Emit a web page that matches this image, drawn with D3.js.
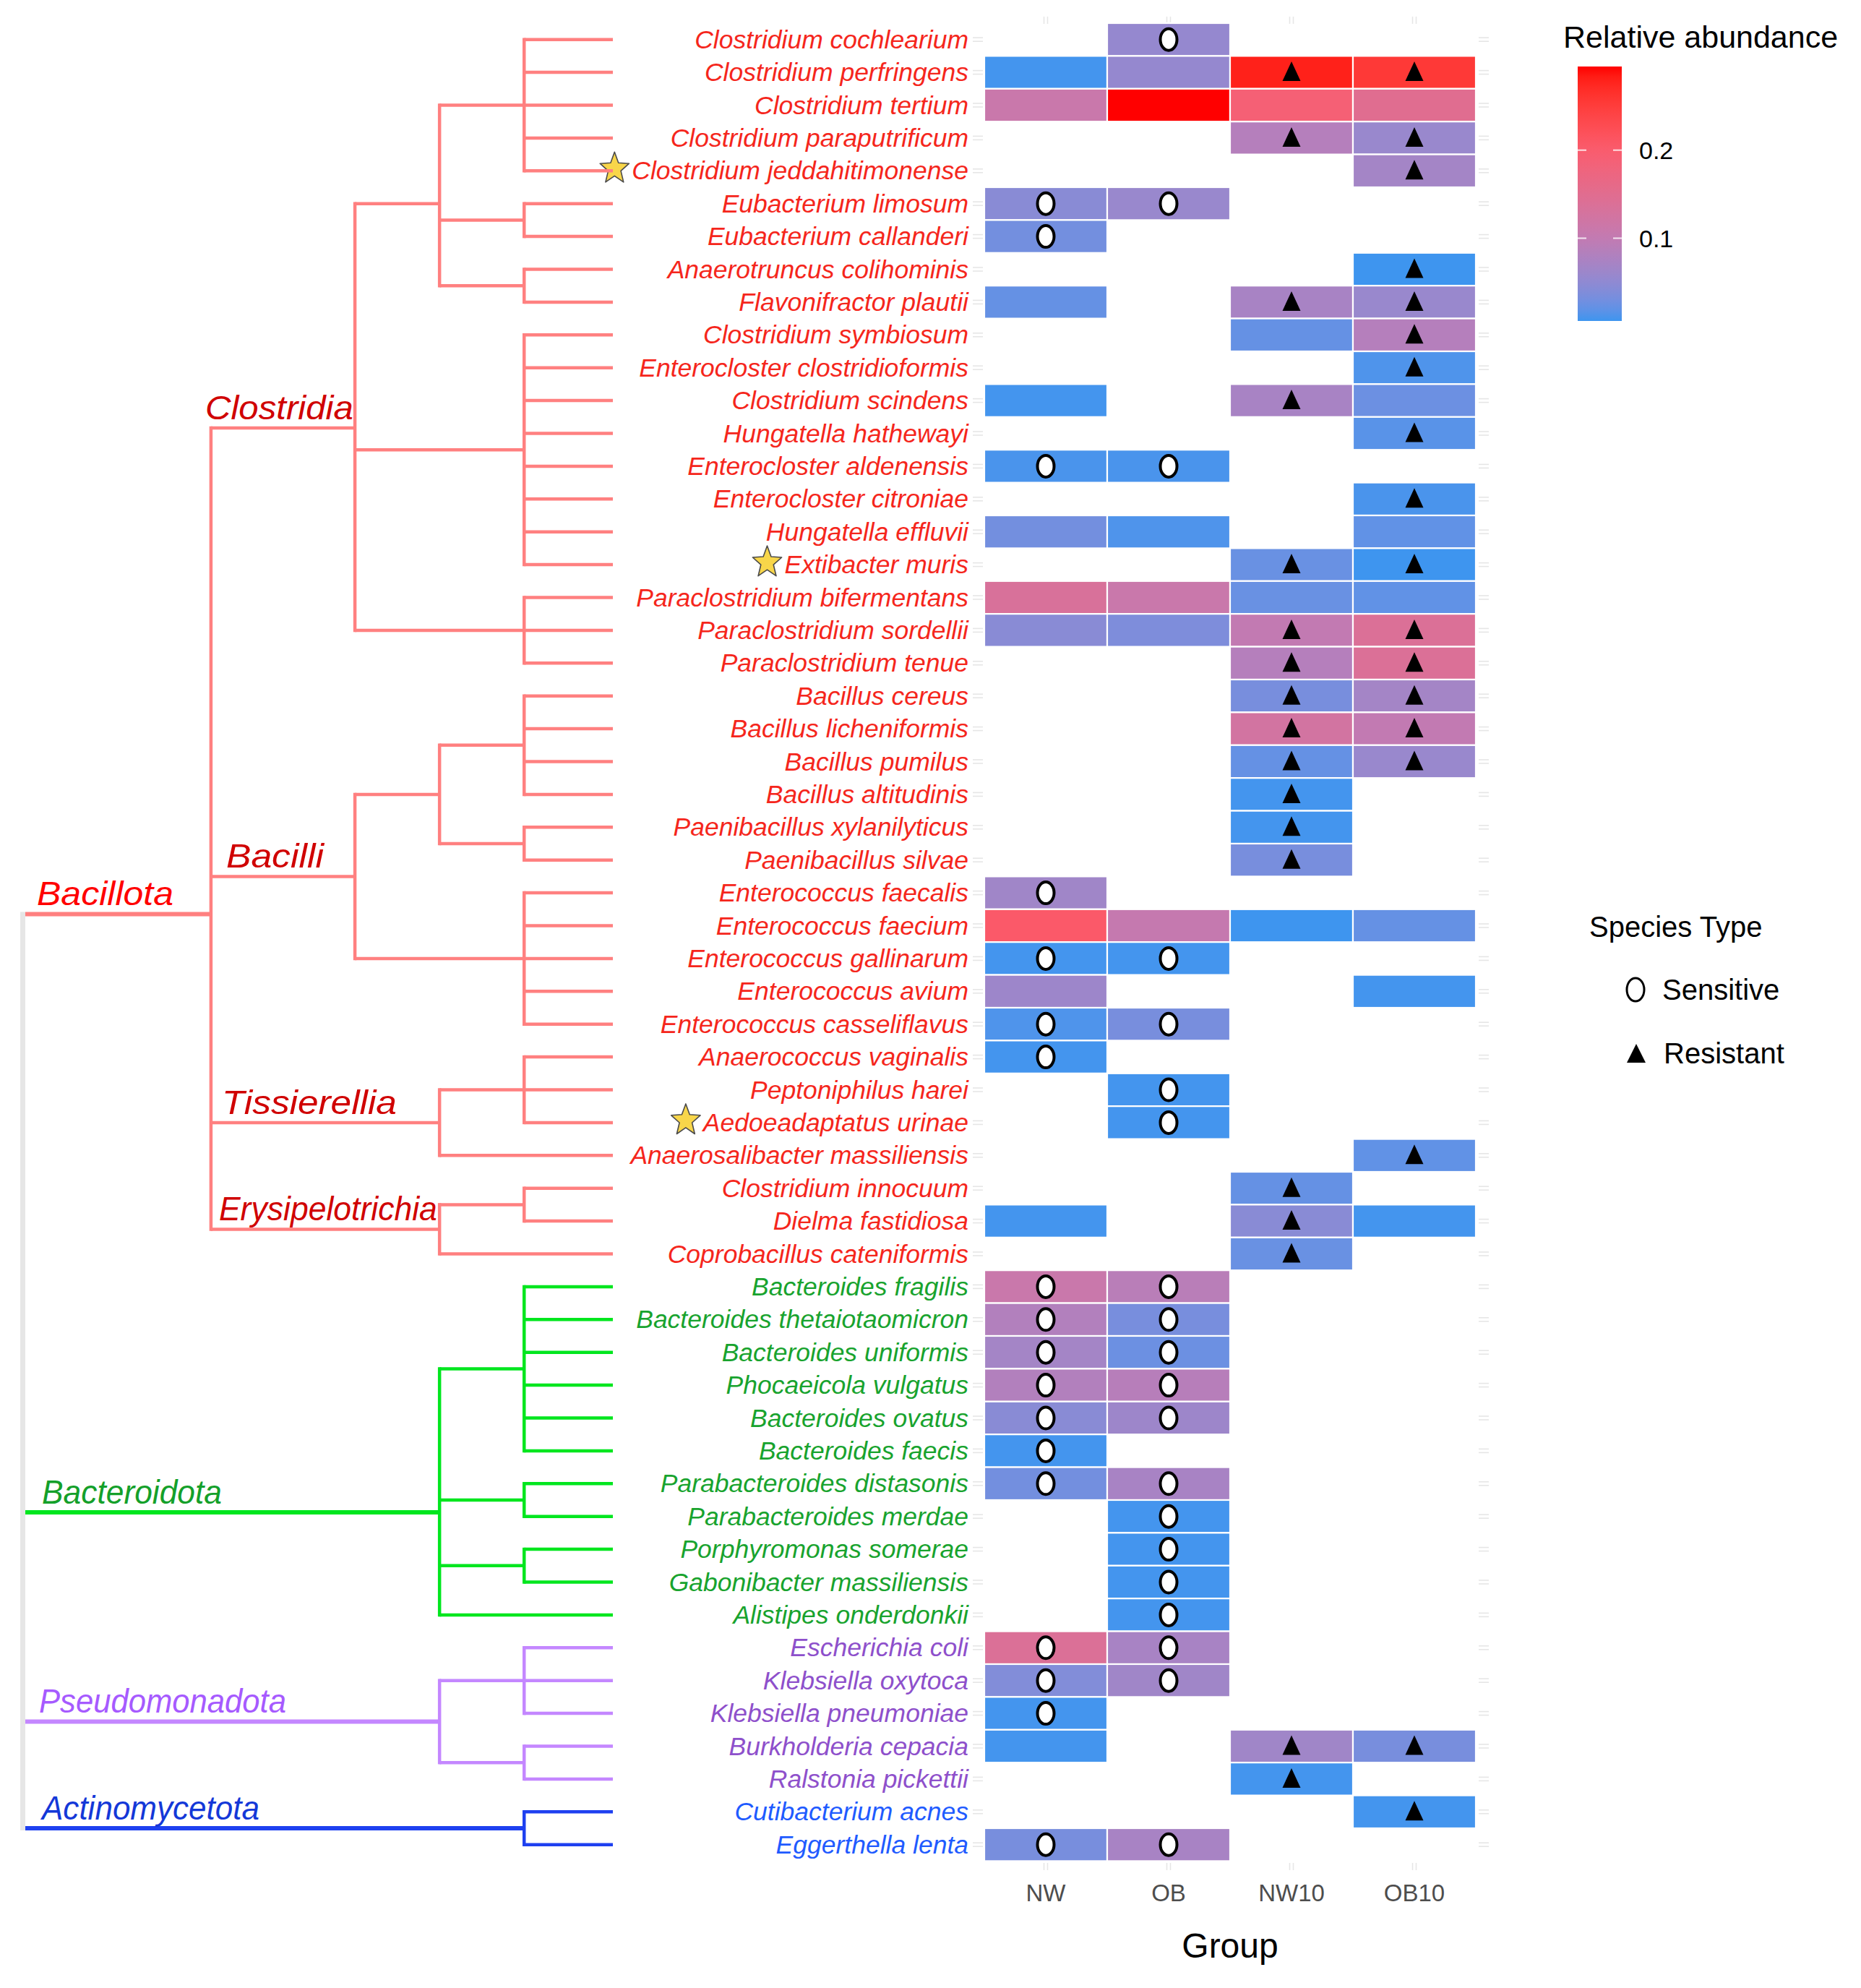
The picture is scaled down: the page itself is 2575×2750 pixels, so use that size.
<!DOCTYPE html>
<html><head><meta charset="utf-8">
<script src="https://cdn.jsdelivr.net/npm/d3@7"></script>
<style>body{margin:0;background:#fff} text{font-family:"Liberation Sans",Arial,sans-serif}</style>
</head><body>
<svg id="chart" width="2575" height="2750"></svg>
<script>
// ---------------- DATA ----------------
const species = [
 "Clostridium cochlearium","Clostridium perfringens","Clostridium tertium","Clostridium paraputrificum",
 "Clostridium jeddahitimonense","Eubacterium limosum","Eubacterium callanderi","Anaerotruncus colihominis",
 "Flavonifractor plautii","Clostridium symbiosum","Enterocloster clostridioformis","Clostridium scindens",
 "Hungatella hathewayi","Enterocloster aldenensis","Enterocloster citroniae","Hungatella effluvii",
 "Extibacter muris","Paraclostridium bifermentans","Paraclostridium sordellii","Paraclostridium tenue",
 "Bacillus cereus","Bacillus licheniformis","Bacillus pumilus","Bacillus altitudinis",
 "Paenibacillus xylanilyticus","Paenibacillus silvae","Enterococcus faecalis","Enterococcus faecium",
 "Enterococcus gallinarum","Enterococcus avium","Enterococcus casseliflavus","Anaerococcus vaginalis",
 "Peptoniphilus harei","Aedoeadaptatus urinae","Anaerosalibacter massiliensis","Clostridium innocuum",
 "Dielma fastidiosa","Coprobacillus cateniformis","Bacteroides fragilis","Bacteroides thetaiotaomicron",
 "Bacteroides uniformis","Phocaeicola vulgatus","Bacteroides ovatus","Bacteroides faecis",
 "Parabacteroides distasonis","Parabacteroides merdae","Porphyromonas somerae","Gabonibacter massiliensis",
 "Alistipes onderdonkii","Escherichia coli","Klebsiella oxytoca","Klebsiella pneumoniae",
 "Burkholderia cepacia","Ralstonia pickettii","Cutibacterium acnes","Eggerthella lenta"];

const groups = ["NW","OB","NW10","OB10"];

const _ = null;
const valNW   = [_,0.008,0.11,_,_,0.045,0.03,_,0.022,_,_,0.008,_,0.01,_,0.03,_,0.135,0.045,_,
                 _,_,_,_,_,_,0.065,0.205,0.008,0.062,0.012,0.008,_,_,_,_,0.008,_,0.11,0.082,
                 0.068,0.082,0.045,0.008,0.03,_,_,_,_,0.14,0.04,0.008,0.008,_,_,0.033];
const valOB   = [0.055,0.055,0.295,_,_,0.058,_,_,_,_,_,_,_,0.01,_,0.012,_,0.11,0.037,_,
                 _,_,_,_,_,_,_,0.105,0.008,_,0.033,_,0.008,0.008,_,_,_,_,0.09,0.033,
                 0.026,0.088,0.062,_,0.072,0.008,0.008,0.008,0.008,0.072,0.065,_,_,_,_,0.072];
const valNW10 = [_,0.28,0.19,0.085,_,_,_,_,0.072,0.022,_,0.072,_,_,_,_,0.024,0.024,0.1,0.085,
                 0.033,0.125,0.022,0.008,0.008,0.033,_,0.006,_,_,_,_,_,_,_,0.022,0.045,0.024,_,_,
                 _,_,_,_,_,_,_,_,_,_,_,_,0.065,0.008,_,_];
const valOB10 = [_,0.255,0.15,0.058,0.068,_,_,0.006,0.058,0.085,0.012,0.026,0.016,_,0.01,0.02,0.006,0.02,0.14,0.14,
                 0.068,0.1,0.058,_,_,_,_,0.022,_,0.008,_,_,_,_,0.02,_,0.008,_,_,_,
                 _,_,_,_,_,_,_,_,_,_,_,_,0.033,_,0.008,_];

// marker per cell (NW, OB, NW10, OB10): S = Sensitive, R = Resistant, - = none
const markerCodes = ["-S--","--RR","----","--RR","---R","SS--","S---","---R","--RR","---R",
 "---R","--R-","---R","SS--","---R","----","--RR","----","--RR","--RR",
 "--RR","--RR","--RR","--R-","--R-","--R-","S---","----","SS--","----",
 "SS--","S---","-S--","-S--","---R","--R-","--R-","--R-","SS--","SS--",
 "SS--","SS--","SS--","S---","SS--","-S--","-S--","-S--","-S--","SS--",
 "SS--","S---","--RR","--R-","---R","SS--"];

const phyla = ["Bacillota","Bacteroidota","Pseudomonadota","Actinomycetota"];
const phylumCounts = [38, 11, 5, 2];
const starred = ["Clostridium jeddahitimonense","Extibacter muris","Aedoeadaptatus urinae"];

const colorTicks = [0.1, 0.2];
const typeLabels = ["Sensitive","Resistant"];

// tree topology (leaf index ranges refer to species order); level = depth column
const levelDepth = [0, 0.316, 0.561, 0.705, 0.849, 1];
const treeSpec = {name:"root", level:0, children:[
 {name:"Bacillota", level:1, children:[
   {name:"Clostridia", level:2, children:[
     {level:3, children:[{level:4, leaves:[0,5]},{level:4, leaves:[5,7]},{level:4, leaves:[7,9]}]},
     {level:4, leaves:[9,17]},
     {level:4, leaves:[17,20]}]},
   {name:"Bacilli", level:2, children:[
     {level:3, children:[{level:4, leaves:[20,24]},{level:4, leaves:[24,26]}]},
     {level:4, leaves:[26,31]}]},
   {name:"Tissierellia", level:3, children:[{level:4, leaves:[31,34]},{leaf:34}]},
   {name:"Erysipelotrichia", level:3, children:[{level:4, leaves:[35,37]},{leaf:37}]}]},
 {name:"Bacteroidota", level:3, children:[{level:4, leaves:[38,44]},{level:4, leaves:[44,46]},{level:4, leaves:[46,48]},{leaf:48}]},
 {name:"Pseudomonadota", level:3, children:[{level:4, leaves:[49,52]},{level:4, leaves:[52,54]}]},
 {name:"Actinomycetota", level:4, leaves:[54,56]}
]};

// ---------------- STYLE ----------------
const phylumLine = {Bacillota:"#FF8080", Bacteroidota:"#00E61E", Pseudomonadota:"#C487FF", Actinomycetota:"#1E40F0"};
const phylumText = {Bacillota:"#F5261C", Bacteroidota:"#18A32E", Pseudomonadota:"#8E50CB", Actinomycetota:"#1F5BFF"};
const cladeStyle = {
 Bacillota:{dx:16, len:189, fill:"#FF0000"},
 Clostridia:{dx:-8, len:205, fill:"#D00000"},
 Bacilli:{dx:21, len:135, fill:"#D00000"},
 Tissierellia:{dx:15, len:242, fill:"#D00000"},
 Erysipelotrichia:{dx:11, len:302, fill:"#D00000"},
 Bacteroidota:{dx:23, len:249, fill:"#14A02A"},
 Pseudomonadota:{dx:19, len:342, fill:"#A65AFF"},
 Actinomycetota:{dx:23, len:301, fill:"#1438D8"}
};
const gradColors = ["#3E95EF","#C27AB2","#FA5C6E","#FF0000"];
const gradStops = [0.1, 0.2];

// ---------------- BUILD ----------------
const svg = d3.select("#chart");
svg.append("rect").attr("width",2575).attr("height",2750).attr("fill","#fff");

const phylumOf = {};
{ let i = 0; phyla.forEach((p,k)=>{ for(let j=0;j<phylumCounts[k];j++) phylumOf[species[i++]] = p; }); }

const y = d3.scaleBand().domain(species).range([32, 32 + 56*45.4]);
const x = d3.scaleBand().domain(groups).range([1362, 2042]);
const yc = s => y(s) + y.bandwidth()/2;

const vals = [valNW, valOB, valNW10, valOB10];
const cells = [];
species.forEach((s,i)=>groups.forEach((g,j)=>{
  const v = vals[j][i];
  if (v !== null) cells.push({s, g, v, m: markerCodes[i][j]});
}));
const ext = d3.extent(cells, d=>d.v);
const color = d3.scaleLinear().domain([ext[0], ...gradStops, ext[1]]).range(gradColors).interpolate(d3.interpolateLab);

// faint axis stubs
const stub = svg.append("g").attr("stroke","#E6E6E6").attr("stroke-width",1.6);
species.forEach(s=>{
  [[1346,1360],[2046,2060]].forEach(([a,b])=>{
    [-2.5,2.5].forEach(o=>stub.append("line").attr("x1",a).attr("x2",b).attr("y1",yc(s)+o).attr("y2",yc(s)+o));
  });
});
groups.forEach(g=>{
  const cx = x(g)+x.bandwidth()/2;
  [[23,33],[2577,2587]].forEach(([a,b])=>{
    [-2.5,2.5].forEach(o=>stub.append("line").attr("x1",cx+o).attr("x2",cx+o).attr("y1",a).attr("y2",b));
  });
});

// tiles
svg.append("g").selectAll("rect").data(cells).join("rect")
  .attr("x", d=>x(d.g)).attr("y", d=>y(d.s))
  .attr("width", x.bandwidth()).attr("height", y.bandwidth())
  .attr("fill", d=>color(d.v)).attr("stroke","#fff").attr("stroke-width",2.2);

// markers
const mk = svg.append("g");
cells.forEach(d=>{
  const cx = x(d.g)+x.bandwidth()/2, cy = yc(d.s);
  if (d.m === "S") mk.append("ellipse").attr("cx",cx).attr("cy",cy).attr("rx",11.5).attr("ry",15)
      .attr("fill","#fff").attr("stroke","#000").attr("stroke-width",4);
  if (d.m === "R") mk.append("path").attr("d",`M${cx},${cy-15}L${cx+12.5},${cy+12}L${cx-12.5},${cy+12}Z`).attr("fill","#000");
});

// species labels
const lab = svg.append("g").attr("font-size",35.5).attr("font-style","italic").attr("text-anchor","end");
species.forEach(s=>{
  const t = lab.append("text").attr("x",1340).attr("y",yc(s)+12).attr("fill",phylumText[phylumOf[s]]).text(s);
  if (starred.includes(s)) {
    const w = t.node().getComputedTextLength();
    const cx = 1340 - w - 24, cy = yc(s) - 3;
    const pts = d3.range(10).map(k=>{
      const r = k%2===0 ? 23 : 10, a = -Math.PI/2 + k*Math.PI/5;
      return [cx + r*Math.cos(a)*0.92, cy + r*Math.sin(a)];
    });
    svg.append("path").attr("d","M"+pts.map(p=>p.join(",")).join("L")+"Z")
      .attr("fill","#F8D64A").attr("stroke","#4A4A4A").attr("stroke-width",1.6).attr("stroke-linejoin","round");
  }
});

// tree
function expand(n){
  if (n.leaves) { n.children = d3.range(n.leaves[0], n.leaves[1]).map(i=>({leaf:i})); }
  if (n.children) n.children.forEach(expand);
  return n;
}
const root = d3.hierarchy(expand(treeSpec), d=>d.children);
const tx = d3.scaleLinear().domain([0,1]).range([35, 848]);
root.eachAfter(n=>{
  if (n.data.leaf !== undefined) { n.py = yc(species[n.data.leaf]); n.px = tx(levelDepth[5]); }
  else { n.py = d3.mean(n.children, c=>c.py); n.px = tx(levelDepth[n.data.level]); }
});
root.each(n=>{ n.phylum = n.depth===0 ? null : n.ancestors().find(a=>a.depth===1).data.name; });

const tg = svg.append("g").attr("fill","none");
tg.append("line").attr("x1",31.5).attr("x2",31.5)
  .attr("y1",root.children[0].py-3).attr("y2",root.children[root.children.length-1].py+3)
  .attr("stroke","#E6E6E6").attr("stroke-width",7);
root.descendants().forEach(n=>{
  if (n.depth===0) return;
  const col = phylumLine[n.phylum];
  const w = n.depth===1 ? 6 : 4.5;
  tg.append("line").attr("x1",n.parent.px).attr("x2",n.px)
    .attr("y1",n.py).attr("y2",n.py).attr("stroke",col).attr("stroke-width",w);
  if (n.children) {
    tg.append("line").attr("x1",n.px).attr("x2",n.px)
      .attr("y1",n.children[0].py).attr("y2",n.children[n.children.length-1].py)
      .attr("stroke",col).attr("stroke-width",4.5).attr("stroke-linecap","square");
  }
});
// clade labels
root.descendants().filter(n=>n.data.name && cladeStyle[n.data.name]).forEach(n=>{
  const st = cladeStyle[n.data.name];
  svg.append("text").attr("x", n.parent.px + st.dx).attr("y", n.py - 12)
    .attr("font-size",46).attr("font-style","italic").attr("fill",st.fill)
    .attr("textLength",st.len).attr("lengthAdjust","spacingAndGlyphs").text(n.data.name);
});

// x axis
const ax = svg.append("g").attr("font-size",33).attr("fill","#4D4D4D").attr("text-anchor","middle");
groups.forEach(g=>ax.append("text").attr("x",x(g)+x.bandwidth()/2).attr("y",2630).text(g));
svg.append("text").attr("x",(x.range()[0]+x.range()[1])/2).attr("y",2708).attr("text-anchor","middle")
  .attr("font-size",48).attr("fill","#000").text("Group");

// colour legend
svg.append("text").attr("x",2163).attr("y",66).attr("font-size",43).attr("fill","#000").text("Relative abundance");
const cb = d3.scaleLinear().domain(ext).range([444, 92]);
const grad = svg.append("defs").append("linearGradient").attr("id","cbar")
  .attr("x1",0).attr("x2",0).attr("y1",1).attr("y2",0);
d3.range(0,1.0001,0.04).forEach(t=>{
  grad.append("stop").attr("offset",t).attr("stop-color",color(ext[0]+t*(ext[1]-ext[0])));
});
svg.append("rect").attr("x",2183).attr("y",92).attr("width",61).attr("height",352).attr("fill","url(#cbar)");
colorTicks.forEach(v=>{
  const yy = cb(v);
  svg.append("line").attr("x1",2183).attr("x2",2195).attr("y1",yy).attr("y2",yy).attr("stroke","#fff").attr("stroke-opacity",0.8).attr("stroke-width",2);
  svg.append("line").attr("x1",2232).attr("x2",2244).attr("y1",yy).attr("y2",yy).attr("stroke","#fff").attr("stroke-opacity",0.8).attr("stroke-width",2);
  svg.append("text").attr("x",2268).attr("y",yy+12).attr("font-size",34).attr("fill","#000").text(v.toFixed(1));
});

// shape legend
svg.append("text").attr("x",2199).attr("y",1296).attr("font-size",40).attr("fill","#000").text("Species Type");
svg.append("ellipse").attr("cx",2263).attr("cy",1369).attr("rx",12).attr("ry",16).attr("fill","none").attr("stroke","#000").attr("stroke-width",3);
svg.append("text").attr("x",2300).attr("y",1383).attr("font-size",40).attr("fill","#000").text(typeLabels[0]);
svg.append("path").attr("d",`M2264,1444L2277,1470L2251,1470Z`).attr("fill","#000");
svg.append("text").attr("x",2302).attr("y",1471).attr("font-size",40).attr("fill","#000").text(typeLabels[1]);
</script>
</body></html>
